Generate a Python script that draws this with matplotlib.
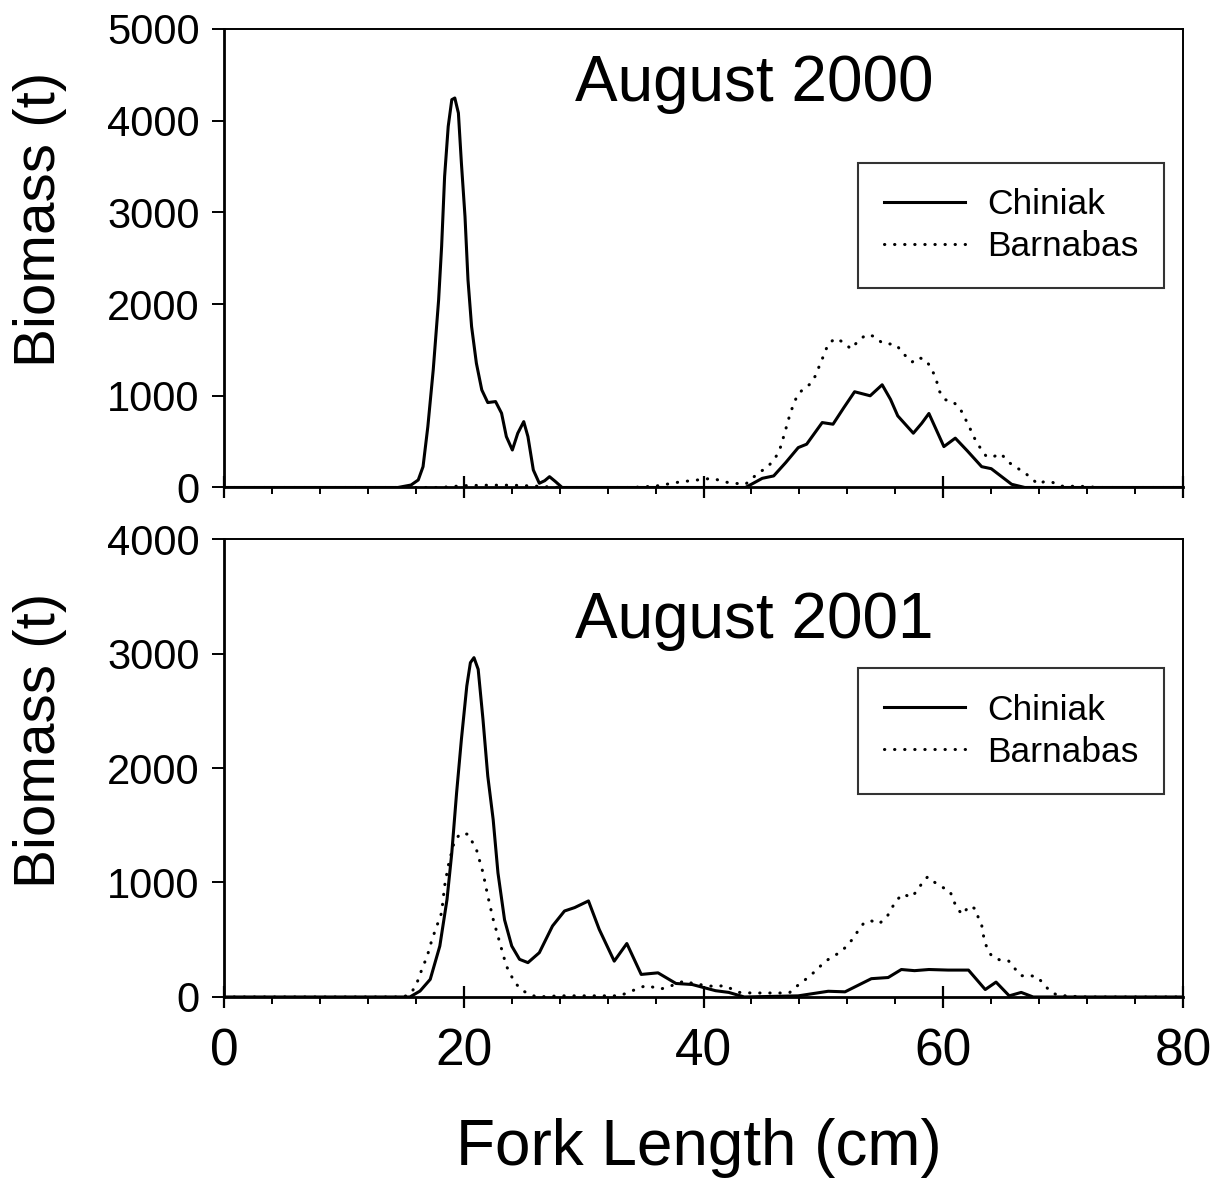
import matplotlib
matplotlib.use('Agg')
import matplotlib.pyplot as plt
from matplotlib.ticker import MultipleLocator

plt.rcParams['font.family'] = ['Liberation Sans', 'DejaVu Sans']

# August 2000
chiniak_2000_x = [0, 14.5, 15.6, 16.2, 16.6, 17.0, 17.45, 17.9, 18.15, 18.4, 18.7, 19.0, 19.25, 19.55,
                  19.8, 20.1, 20.35, 20.65, 21.05, 21.5, 22.0, 22.65, 23.15, 23.55, 24.05, 24.5, 25.0,
                  25.35, 25.8, 26.3, 26.75, 27.15, 27.65, 28.2, 43.5, 44.9, 45.85, 46.85, 47.9, 48.6,
                  49.9, 50.8, 51.7, 52.6, 53.9, 54.9, 55.6, 56.2, 57.5, 58.2, 58.8, 60.05, 61.0, 62.0,
                  63.2, 64.0, 65.7, 66.8, 80]
chiniak_2000_y = [0, 0, 27, 82, 227, 663, 1282, 2046, 2628, 3392, 3937, 4229, 4247, 4083,
                  3538, 2955, 2264, 1755, 1355, 1064, 926, 937, 810, 555, 409, 591, 718,
                  555, 191, 46, 74, 118, 64, 0, 0, 100, 126, 271, 435, 472,
                  708, 690, 870, 1044, 1000, 1120, 960, 781, 592, 700, 807, 446, 538, 400,
                  227, 205, 35, 0, 0]

barnabas_2000_x = [0, 18, 20, 22, 24, 26, 28, 34, 36, 38, 40.7, 42.1, 43.5, 44.6, 45.3, 45.85, 46.3,
                   46.7, 47.25, 47.8, 48.35, 48.9, 49.3, 49.9, 50.4, 51.0, 51.7, 52.3, 53.0, 53.6,
                   54.25, 54.9, 55.55, 56.1, 56.6, 57.4, 57.9, 58.55, 59.0, 59.35, 59.7, 60.2, 60.8,
                   61.4, 62.1, 62.75, 63.2, 63.6, 64.2, 64.8, 65.5, 66.1, 66.6, 67.3, 67.9, 68.4,
                   69.1, 69.8, 71.6, 73, 80]
barnabas_2000_y = [0, 0, 20, 25, 25, 15, 0, 0, 15, 60, 100, 52, 35, 162, 217, 300, 388,
                   563, 817, 1000, 1080, 1128, 1211, 1401, 1565, 1626, 1582, 1510, 1612, 1667,
                   1648, 1576, 1565, 1554, 1467, 1368, 1419, 1390, 1298, 1200, 1044, 956, 937,
                   861, 680, 497, 410, 337, 337, 369, 271, 216, 180, 107, 35, 64,
                   57, 15, 12, 0, 0]

# August 2001
chiniak_2001_x = [0, 15.5, 16.35, 17.2, 18.0, 18.6, 19.0, 19.4, 19.8, 20.25, 20.55, 20.85, 21.2,
                  21.6, 22.0, 22.45, 22.85, 23.4, 24.0, 24.65, 25.35, 26.3, 27.4, 28.4, 29.25,
                  30.4, 31.3, 32.55, 33.6, 34.8, 36.2, 37.7, 39.05, 41.0, 42.1, 43.4, 47.9, 50.4,
                  51.8, 54.0, 55.4, 56.5, 57.6, 58.8, 60.4, 62.1, 63.5, 64.4, 65.5, 66.5, 67.5, 80]
chiniak_2001_y = [0, 0, 52, 154, 445, 852, 1260, 1784, 2250, 2716, 2920, 2964, 2862,
                  2425, 1930, 1550, 1084, 674, 445, 329, 300, 387, 620, 751, 781,
                  839, 590, 313, 467, 197, 211, 118, 109, 55, 40, 0, 10, 50,
                  45, 160, 170, 240, 230, 240, 235, 235, 65, 130, 10, 40, 0, 0]

barnabas_2001_x = [0, 15.0, 15.65, 16.1, 16.5, 16.95, 17.35, 17.75, 18.15, 18.4, 18.7, 19.2, 19.7,
                   20.35, 21.05, 21.6, 22.0, 22.45, 23.0, 23.55, 24.25, 24.95, 26.05, 28, 33, 34.5,
                   35.2, 36.45, 37.1, 38.4, 39.2, 41.0, 41.7, 43.0, 44.0, 46.5, 47.2, 47.5, 48.2,
                   48.8, 49.5, 50.0, 50.8, 51.4, 52.0, 52.5, 52.9, 53.4, 54.0, 54.65, 55.3, 55.7,
                   56.05, 56.65, 57.3, 57.85, 58.25, 58.7, 59.3, 59.9, 60.55, 60.8, 61.1, 61.6,
                   62.15, 62.7, 62.9, 63.2, 63.3, 63.45, 63.7, 64.1, 64.8, 65.45, 65.95, 66.5,
                   67.1, 67.85, 68.4, 68.95, 69.55, 70.9, 72, 80]
barnabas_2001_y = [0, 0, 40, 125, 241, 357, 503, 620, 736, 970, 1145, 1355, 1428,
                   1422, 1290, 1087, 883, 679, 475, 271, 125, 52, 0, 10, 10, 73,
                   100, 70, 90, 140, 115, 90, 100, 40, 35, 35, 40, 75, 125,
                   180, 240, 300, 355, 390, 450, 515, 580, 650, 665, 640, 700, 775,
                   840, 900, 870, 930, 1000, 1050, 1000, 960, 925, 860, 780, 720,
                   795, 770, 700, 630, 560, 490, 410, 350, 320, 315, 250, 185,
                   190, 175, 110, 45, 15, 5, 0, 0]

titles = ['August 2000', 'August 2001']
ymax = [5000, 4000]

fig = plt.figure(figsize=(12.15, 11.96), dpi=100)
ax1 = fig.add_axes([0.1844, 0.5924, 0.7893, 0.3834])
ax2 = fig.add_axes([0.1844, 0.1664, 0.7893, 0.3829])

panels = [(ax1, chiniak_2000_x, chiniak_2000_y, barnabas_2000_x, barnabas_2000_y),
          (ax2, chiniak_2001_x, chiniak_2001_y, barnabas_2001_x, barnabas_2001_y)]

for i, (ax, cx, cy, bx, by) in enumerate(panels):
    ax.plot(cx, cy, color='black', lw=2.2, label='Chiniak', solid_joinstyle='round')
    ax.plot(bx, by, color='black', lw=2.2, linestyle=(0, (0.1, 3.2)),
            dash_capstyle='round', label='Barnabas')
    ax.set_xlim(0, 80)
    ax.set_ylim(0, ymax[i])
    ax.xaxis.set_major_locator(MultipleLocator(20))
    ax.xaxis.set_minor_locator(MultipleLocator(4))
    ax.yaxis.set_major_locator(MultipleLocator(1000))
    ax.tick_params(axis='x', which='major', direction='inout', length=16, width=1.6,
                   labelsize=37, pad=14)
    ax.tick_params(axis='x', which='minor', direction='out', length=5, width=1.4)
    ax.tick_params(axis='y', which='major', direction='out', length=8.5, width=1.4,
                   labelsize=30, pad=9)
    for side in ['top', 'right']:
        ax.spines[side].set_linewidth(1.4)
    for side in ['left', 'bottom']:
        ax.spines[side].set_linewidth(2.0)
    ax.text(0.553, 0.842 if i == 0 else 0.784, titles[i], transform=ax.transAxes,
            ha='center', va='baseline', fontsize=46)
    ax.set_ylabel('Biomass (t)', fontsize=42)
    ax.yaxis.set_label_coords(-0.1637, 0.584 if i == 0 else 0.56)
    leg = ax.legend(loc='upper right', bbox_to_anchor=(0.980, 0.7085 if i == 0 else 0.718),
                    fontsize=25.5, frameon=True, fancybox=False, handlelength=2.3,
                    handletextpad=0.62, borderpad=0.72, labelspacing=0.25, borderaxespad=0)
    leg.get_frame().set_edgecolor('black')
    leg.get_frame().set_linewidth(1.5)

ax1.tick_params(axis='x', which='major', labelbottom=False)
ax2.set_xlabel('Fork Length (cm)', fontsize=46)
ax2.xaxis.set_label_coords(0.495, -0.264)
ax2.xaxis.label.set_va('top')

fig.savefig('out.png', dpi=100)
